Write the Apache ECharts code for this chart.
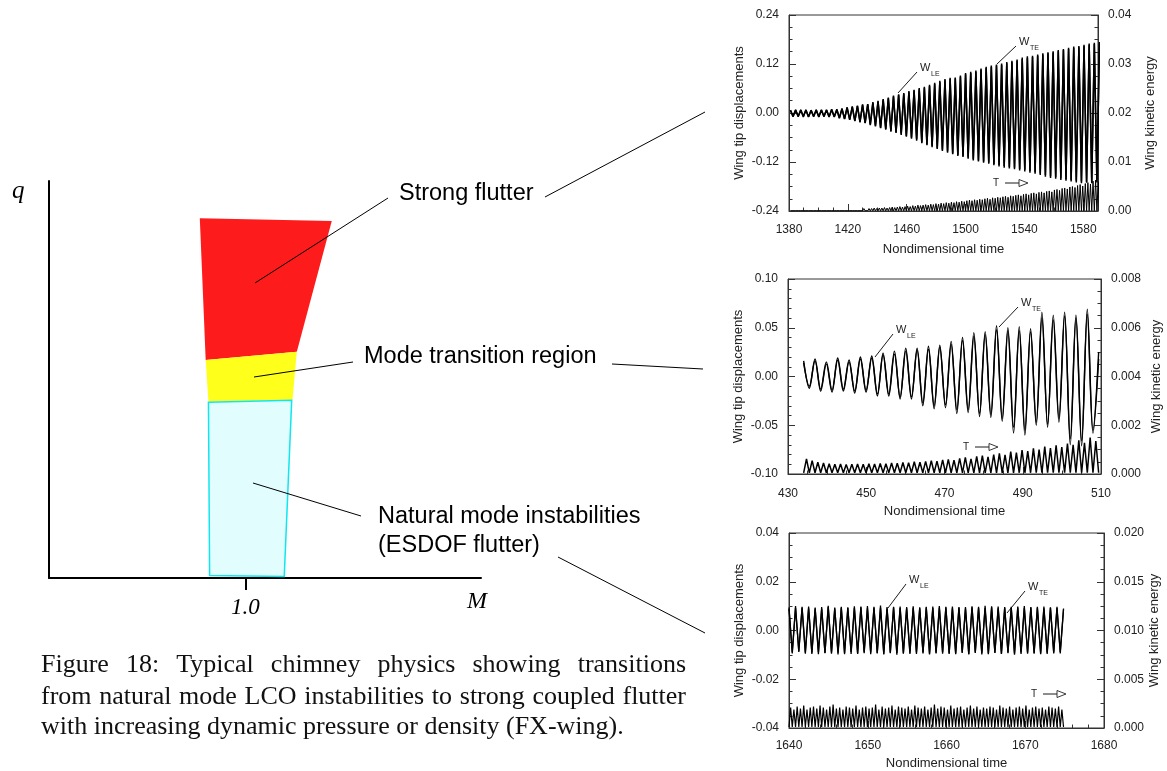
<!DOCTYPE html>
<html>
<head>
<meta charset="utf-8">
<title>Chimney physics – FX-wing</title>
<style>
  html, body { margin: 0; padding: 0; background: #fff; }
  #chart { width: 1167px; height: 771px; }
</style>
<script src="https://cdn.jsdelivr.net/npm/echarts@6.0.0/dist/echarts.min.js"></script>
</head>
<body>
<div id="chart"></div>
<script>
// ---------------------------------------------------------------
// Stability diagram: regions in (Mach number M, dynamic pressure q)
// ---------------------------------------------------------------
const machRange = [0.5, 1.6];
const qRange = [0, 10];
const machTicks = ['1.0'];
const strongFlutterRegion = [[0.884, 9.06], [1.220, 8.99], [1.131, 5.70], [0.899, 5.49]];
const modeTransitionRegion = [[0.899, 5.49], [1.131, 5.70], [1.120, 4.48], [0.906, 4.44]];
const naturalModeRegion = [[0.906, 4.43], [1.118, 4.48], [1.099, 0.04], [0.909, 0.06]];
const regionLabels = ['Strong flutter', 'Mode transition region', 'Natural mode instabilities', '(ESDOF flutter)'];

const captionLines = [
  'Figure 18: Typical chimney physics showing transitions',
  'from natural mode LCO instabilities to strong coupled flutter',
  'with increasing dynamic pressure or density (FX-wing).'
];

// ---------------------------------------------------------------
// Time histories. Displacements are listed as successive extrema
// (peak, trough, peak, ...) sampled every half period; kinetic
// energy is listed as its successive peaks between those extrema.
// ---------------------------------------------------------------

// Strong flutter case
const p1TimeRange = [1380, 1590];
const p1TimeTicks = ['1380', '1420', '1460', '1500', '1540', '1580'];
const p1DispTicks = ['-0.24', '-0.12', '0.00', '0.12', '0.24'];
const p1EnergyTicks = ['0.00', '0.01', '0.02', '0.03', '0.04'];
const p1Start = 1381;
const p1HalfPeriod = 1.75;
const p1wLE = [
  0.007, -0.009, 0.008, -0.008, 0.007, -0.010, 0.008, -0.009, 0.006, -0.009, 0.008, -0.010, 0.007, -0.008, 0.008, -0.009, 0.009, -0.010, 0.008,
  -0.012, 0.011, -0.014, 0.014, -0.016, 0.016, -0.019, 0.018, -0.021, 0.021, -0.024, 0.022,
  -0.028, 0.027, -0.031, 0.030, -0.036, 0.034, -0.039, 0.038, -0.044, 0.043, -0.047, 0.046, -0.051, 0.049,
  -0.056, 0.054, -0.060, 0.057, -0.064, 0.061, -0.072, 0.064, -0.077, 0.069, -0.081, 0.074, -0.086, 0.079, -0.090, 0.083,
  -0.094, 0.086, -0.099, 0.087, -0.103, 0.092, -0.106, 0.098, -0.109, 0.101, -0.113, 0.104, -0.116, 0.109, -0.119, 0.113,
  -0.121, 0.116, -0.125, 0.119, -0.127, 0.121, -0.130, 0.125, -0.132, 0.128, -0.134, 0.131, -0.137, 0.136, -0.139, 0.139,
  -0.142, 0.140, -0.145, 0.143, -0.148, 0.146, -0.152, 0.149, -0.155, 0.151, -0.157, 0.154, -0.160, 0.157, -0.162, 0.160,
  -0.164, 0.163, -0.166, 0.164, -0.168, 0.167, -0.169, 0.170, -0.170, 0.172, -0.168, 0.174
];
const p1wTE = [
  0.006, -0.008, 0.007, -0.009, 0.008, -0.008, 0.007, -0.010, 0.007, -0.008, 0.007, -0.009, 0.008, -0.009, 0.007, -0.010, 0.008, -0.009, 0.009,
  -0.013, 0.010, -0.015, 0.013, -0.017, 0.015, -0.020, 0.017, -0.023, 0.020, -0.025, 0.021,
  -0.030, 0.025, -0.033, 0.028, -0.037, 0.032, -0.041, 0.036, -0.046, 0.040, -0.049, 0.044, -0.054, 0.047,
  -0.058, 0.051, -0.063, 0.055, -0.068, 0.058, -0.074, 0.062, -0.079, 0.066, -0.084, 0.071, -0.088, 0.076, -0.093, 0.080,
  -0.097, 0.083, -0.101, 0.085, -0.105, 0.089, -0.108, 0.095, -0.112, 0.098, -0.116, 0.101, -0.119, 0.106, -0.122, 0.110,
  -0.124, 0.113, -0.128, 0.116, -0.131, 0.118, -0.134, 0.122, -0.136, 0.125, -0.138, 0.128, -0.141, 0.132, -0.143, 0.135,
  -0.146, 0.137, -0.149, 0.140, -0.152, 0.143, -0.156, 0.146, -0.159, 0.148, -0.161, 0.151, -0.164, 0.154, -0.166, 0.157,
  -0.168, 0.160, -0.170, 0.161, -0.172, 0.164, -0.171, 0.167, -0.172, 0.169, -0.170, 0.171
];
const p1EnergyMin = 0.00005;
const p1EnergyPeaks = [
  0.0002, 0.0001, 0.0002, 0.0002, 0.0001, 0.0002, 0.0002, 0.0001, 0.0002, 0.0002, 0.0001, 0.0002, 0.0002, 0.0002, 0.0001, 0.0002, 0.0002, 0.0002, 0.0003, 0.0002,
  0.0003, 0.0003, 0.0003, 0.0004, 0.0003, 0.0004, 0.0004, 0.0004, 0.0005, 0.0004, 0.0005, 0.0005, 0.0006, 0.0005, 0.0006, 0.0006, 0.0007, 0.0006, 0.0007, 0.0008,
  0.0007, 0.0008, 0.0009, 0.0008, 0.0009, 0.0010, 0.0009, 0.0011, 0.0010, 0.0012, 0.0011, 0.0012, 0.0013, 0.0012, 0.0014, 0.0013, 0.0015, 0.0014, 0.0016, 0.0015,
  0.0017, 0.0016, 0.0018, 0.0017, 0.0019, 0.0018, 0.0020, 0.0019, 0.0021, 0.0022, 0.0021, 0.0023, 0.0022, 0.0024, 0.0023, 0.0025, 0.0026, 0.0024, 0.0027, 0.0026,
  0.0028, 0.0027, 0.0029, 0.0030, 0.0028, 0.0031, 0.0030, 0.0032, 0.0033, 0.0031, 0.0034, 0.0035, 0.0033, 0.0036, 0.0037, 0.0035, 0.0038, 0.0039, 0.0037, 0.0040,
  0.0041, 0.0039, 0.0043, 0.0044, 0.0042, 0.0046, 0.0047, 0.0045, 0.0049, 0.0050, 0.0048, 0.0052, 0.0054, 0.0051, 0.0056, 0.0058, 0.0055, 0.0061, 0.0063, 0.0060, 0.0074
];

// Mode transition case
const p2TimeRange = [430, 510];
const p2TimeTicks = ['430', '450', '470', '490', '510'];
const p2DispTicks = ['-0.10', '-0.05', '0.00', '0.05', '0.10'];
const p2EnergyTicks = ['0.000', '0.002', '0.004', '0.006', '0.008'];
const p2Start = 434;
const p2HalfPeriod = 1.45;
const p2wLE = [
  0.016, -0.012, 0.018, -0.015, 0.013, -0.016, 0.019, -0.013, 0.017, -0.017,
  0.020, -0.014, 0.019, -0.020, 0.024, -0.018, 0.026, -0.023, 0.029, -0.021,
  0.027, -0.030, 0.031, -0.033, 0.030, -0.029, 0.036, -0.038, 0.040, -0.034,
  0.045, -0.041, 0.046, -0.039, 0.052, -0.046, 0.047, -0.058, 0.051, -0.060,
  0.046, -0.047, 0.066, -0.052, 0.063, -0.043, 0.066, -0.070, 0.060, -0.071,
  0.069, -0.055, 0.025
];
const p2wTE = [
  0.014, -0.010, 0.016, -0.013, 0.015, -0.014, 0.017, -0.015, 0.015, -0.015,
  0.018, -0.016, 0.021, -0.018, 0.022, -0.020, 0.023, -0.021, 0.026, -0.023,
  0.029, -0.027, 0.028, -0.030, 0.032, -0.032, 0.033, -0.034, 0.037, -0.037,
  0.041, -0.038, 0.043, -0.042, 0.048, -0.043, 0.050, -0.052, 0.047, -0.055,
  0.049, -0.050, 0.060, -0.049, 0.058, -0.047, 0.062, -0.064, 0.063, -0.066,
  0.064, -0.058, 0.018
];
const p2EnergyMin = 0.00005;
const p2EnergyPeaks = [
  0.00062, 0.00055, 0.00048, 0.00045, 0.00042, 0.00040, 0.00041, 0.00039, 0.00040, 0.00041,
  0.00040, 0.00042, 0.00041, 0.00043, 0.00042, 0.00045, 0.00044, 0.00047, 0.00046, 0.00050,
  0.00048, 0.00052, 0.00055, 0.00053, 0.00058, 0.00060, 0.00057, 0.00064, 0.00068, 0.00062,
  0.00072, 0.00075, 0.00070, 0.00080, 0.00085, 0.00078, 0.00092, 0.00088, 0.00098, 0.00094,
  0.00105, 0.00100, 0.00112, 0.00106, 0.00118, 0.00110, 0.00125, 0.00120, 0.00138, 0.00128,
  0.00150, 0.00135
];

// Natural mode (ESDOF) case
const p3TimeRange = [1640, 1680];
const p3TimeTicks = ['1640', '1650', '1660', '1670', '1680'];
const p3DispTicks = ['-0.04', '-0.02', '0.00', '0.02', '0.04'];
const p3EnergyTicks = ['0.000', '0.005', '0.010', '0.015', '0.020'];
const p3Start = 1640;
const p3HalfPeriod = 0.415;
const p3wLE = [
  0.0095, -0.0090, 0.0100, -0.0088, 0.0093, -0.0095, 0.0098, -0.0091, 0.0090, -0.0097, 0.0096, -0.0093, 0.0101, -0.0090, 0.0094, -0.0098, 0.0097, -0.0092, 0.0092, -0.0096,
  0.0099, -0.0094, 0.0095, -0.0089, 0.0100, -0.0097, 0.0093, -0.0092, 0.0102, -0.0095, 0.0096, -0.0091, 0.0094, -0.0099, 0.0098, -0.0093, 0.0091, -0.0096, 0.0099, -0.0090,
  0.0095, -0.0094, 0.0097, -0.0098, 0.0092, -0.0091, 0.0100, -0.0095, 0.0094, -0.0093, 0.0098, -0.0097, 0.0093, -0.0090, 0.0096, -0.0096, 0.0099, -0.0092, 0.0092, -0.0098,
  0.0101, -0.0094, 0.0095, -0.0091, 0.0098, -0.0096, 0.0093, -0.0093, 0.0097, -0.0099, 0.0094, -0.0090, 0.0100, -0.0095, 0.0096, -0.0092, 0.0093, -0.0097, 0.0098, -0.0091,
  0.0095, -0.0094, 0.0097, -0.0088, 0.0090
];
const p3wTE = [
  0.0088, -0.0094, 0.0092, -0.0085, 0.0097, -0.0090, 0.0091, -0.0096, 0.0094, -0.0089, 0.0089, -0.0092, 0.0096, -0.0095, 0.0090, -0.0091, 0.0093, -0.0097, 0.0095, -0.0088,
  0.0092, -0.0096, 0.0098, -0.0093, 0.0091, -0.0090, 0.0097, -0.0094, 0.0093, -0.0098, 0.0090, -0.0093, 0.0097, -0.0092, 0.0092, -0.0095, 0.0096, -0.0091, 0.0093, -0.0096,
  0.0091, -0.0090, 0.0094, -0.0095, 0.0098, -0.0094, 0.0093, -0.0089, 0.0097, -0.0096, 0.0091, -0.0094, 0.0096, -0.0092, 0.0090, -0.0098, 0.0095, -0.0090, 0.0097, -0.0093,
  0.0092, -0.0097, 0.0099, -0.0092, 0.0091, -0.0095, 0.0096, -0.0090, 0.0093, -0.0094, 0.0098, -0.0096, 0.0092, -0.0091, 0.0094, -0.0095, 0.0097, -0.0093, 0.0091, -0.0096,
  0.0093, -0.0090, 0.0092, -0.0094, 0.0086
];
const p3EnergyMin = 0.0001;
const p3EnergyPeaks = [
  0.0021, 0.0019, 0.0022, 0.0020, 0.0023, 0.0019, 0.0021, 0.0022, 0.0020, 0.0023, 0.0021, 0.0019, 0.0022, 0.0024, 0.0020, 0.0021, 0.0019, 0.0022, 0.0021, 0.0020,
  0.0023, 0.0019, 0.0021, 0.0022, 0.0020, 0.0021, 0.0024, 0.0019, 0.0022, 0.0020, 0.0021, 0.0023, 0.0019, 0.0022, 0.0021, 0.0020, 0.0022, 0.0019, 0.0023, 0.0021,
  0.0020, 0.0022, 0.0019, 0.0021, 0.0024, 0.0020, 0.0022, 0.0021, 0.0019, 0.0023, 0.0020, 0.0021, 0.0022, 0.0019, 0.0021, 0.0023, 0.0020, 0.0022, 0.0019, 0.0021,
  0.0020, 0.0022, 0.0021, 0.0019, 0.0023, 0.0021, 0.0020, 0.0022, 0.0019, 0.0021, 0.0022, 0.0020, 0.0023, 0.0019, 0.0021, 0.0022, 0.0020, 0.0021, 0.0019, 0.0022,
  0.0021, 0.0020, 0.0022, 0.0019
];

// ---------------------------------------------------------------
// Styling and layout
// ---------------------------------------------------------------
const SANS = '"Liberation Sans", Arial, Helvetica, sans-serif';
const SERIF = '"Liberation Serif", "Times New Roman", Times, serif';
const INK = '#222';
const FRAME = '#333';

// Extremum lists -> [time, value] vertices on the sampling grid
function extremaSeries(values, start, half) {
  return values.map((v, i) => [start + i * half, v]);
}
// Energy peaks sit between displacement extrema, minima at the extrema
function energySeries(peaks, base, start, half) {
  const out = [];
  peaks.forEach((p, i) => {
    out.push([start + i * half, base]);
    out.push([start + (i + 0.5) * half, p]);
  });
  out.push([start + peaks.length * half, base]);
  return out;
}
function labelFrom(ticks) {
  return v => {
    for (const s of ticks) if (Math.abs(Number(s) - v) < 1e-9) return s;
    return '';
  };
}

const panels = [
  { grid: { left: 789, top: 15, width: 309, height: 196 },
    time: p1TimeRange, timeTicks: p1TimeTicks, timeMinor: 10,
    disp: p1DispTicks, dispMinor: 0.03, energy: p1EnergyTicks, energyMinor: 0.0025,
    gaps: { x: 32, left: 43, right: 46 }, xMargin: 13,
    wLE: extremaSeries(p1wLE, p1Start, p1HalfPeriod),
    wTE: extremaSeries(p1wTE, p1Start, p1HalfPeriod),
    T: energySeries(p1EnergyPeaks, p1EnergyMin, p1Start, p1HalfPeriod),
    smooth: false, wWidth: 1.5, tWidth: 1.0 },
  { grid: { left: 788, top: 279, width: 313, height: 195 },
    time: p2TimeRange, timeTicks: p2TimeTicks, timeMinor: 5,
    disp: p2DispTicks, dispMinor: 0.01, energy: p2EnergyTicks, energyMinor: 0.0005,
    gaps: { x: 31, left: 43, right: 49 }, xMargin: 14,
    wLE: extremaSeries(p2wLE, p2Start, p2HalfPeriod),
    wTE: extremaSeries(p2wTE, p2Start, p2HalfPeriod),
    T: energySeries(p2EnergyPeaks, p2EnergyMin, p2Start, p2HalfPeriod),
    smooth: 0.35, wWidth: 1.4, tWidth: 1.5 },
  { grid: { left: 789, top: 533, width: 315, height: 196 },
    time: p3TimeRange, timeTicks: p3TimeTicks, timeMinor: 2,
    disp: p3DispTicks, dispMinor: 0.005, energy: p3EnergyTicks, energyMinor: 0.00125,
    gaps: { x: 29, left: 43, right: 44 }, xMargin: 12,
    wLE: extremaSeries(p3wLE, p3Start, p3HalfPeriod),
    wTE: extremaSeries(p3wTE, p3Start, p3HalfPeriod),
    T: energySeries(p3EnergyPeaks, p3EnergyMin, p3Start, p3HalfPeriod),
    smooth: false, wWidth: 1.3, tWidth: 1.2 }
];

const grids = [{ left: 49, top: 181, width: 432, height: 397, show: false }];
const xAxes = [{
  gridIndex: 0, type: 'value', min: machRange[0], max: machRange[1],
  axisLine: { show: true, onZero: false, lineStyle: { color: '#000', width: 2 } },
  axisTick: { show: true, length: 12, customValues: machTicks.map(Number), lineStyle: { color: '#000', width: 2 } },
  axisLabel: { show: true, customValues: machTicks.map(Number), formatter: labelFrom(machTicks), margin: 18,
    fontFamily: SERIF, fontStyle: 'italic', fontSize: 23, color: '#000' },
  splitLine: { show: false }
}];
const yAxes = [{
  gridIndex: 0, type: 'value', min: qRange[0], max: qRange[1],
  axisLine: { show: true, onZero: false, lineStyle: { color: '#000', width: 2 } },
  axisTick: { show: false }, axisLabel: { show: false }, splitLine: { show: false }
}];
const series = [];

function majorAxis(gi, pos, ticks, range, name, gap, margin) {
  const vals = ticks.map(Number);
  return {
    gridIndex: gi, type: 'value', position: pos, min: range[0], max: range[1],
    axisLine: { show: true, onZero: false, lineStyle: { color: FRAME, width: 1 } },
    axisTick: { show: true, inside: true, length: 7, customValues: vals, lineStyle: { color: FRAME, width: 1 } },
    axisLabel: { show: true, customValues: vals, formatter: labelFrom(ticks), margin: margin,
      fontFamily: SANS, fontSize: 12, color: INK },
    splitLine: { show: false },
    name: name, nameLocation: 'middle', nameGap: gap,
    nameTextStyle: { fontFamily: SANS, fontSize: 13, color: INK }
  };
}
function minorAxis(gi, pos, range, step) {
  return {
    gridIndex: gi, type: 'value', position: pos, min: range[0], max: range[1], interval: step,
    axisLine: { show: false, onZero: false },
    axisTick: { show: true, inside: true, length: 3.5, lineStyle: { color: FRAME, width: 1 } },
    axisLabel: { show: false }, splitLine: { show: false }
  };
}

panels.forEach((p, k) => {
  const gi = k + 1;
  grids.push(Object.assign({ show: true, borderColor: FRAME, borderWidth: 1, backgroundColor: 'transparent' }, p.grid));
  const xi = xAxes.length;
  xAxes.push(majorAxis(gi, 'bottom', p.timeTicks, p.time, 'Nondimensional time', p.gaps.x, p.xMargin));
  xAxes.push(minorAxis(gi, 'bottom', p.time, p.timeMinor));
  const dispRange = [Number(p.disp[0]), Number(p.disp[p.disp.length - 1])];
  const enRange = [Number(p.energy[0]), Number(p.energy[p.energy.length - 1])];
  const yl = yAxes.length;
  yAxes.push(majorAxis(gi, 'left', p.disp, dispRange, 'Wing tip displacements', p.gaps.left, 10));
  yAxes.push(minorAxis(gi, 'left', dispRange, p.dispMinor));
  const yr = yAxes.length;
  yAxes.push(majorAxis(gi, 'right', p.energy, enRange, 'Wing kinetic energy', p.gaps.right, 10));
  yAxes.push(minorAxis(gi, 'right', enRange, p.energyMinor));

  const common = { type: 'line', xAxisIndex: xi, symbol: 'none', showSymbol: false, clip: true,
    animation: false, silent: true };
  series.push(Object.assign({}, common, { name: 'wLE', yAxisIndex: yl, data: p.wLE, smooth: p.smooth,
    lineStyle: { color: '#000', width: p.wWidth } }));
  series.push(Object.assign({}, common, { name: 'wTE', yAxisIndex: yl, data: p.wTE, smooth: p.smooth,
    lineStyle: { color: '#000', width: p.wWidth } }));
  series.push(Object.assign({}, common, { name: 'T', yAxisIndex: yr, data: p.T, smooth: false,
    lineStyle: { color: '#000', width: p.tWidth } }));
});

// Stability regions as filled polygons in (M, q)
function regionSeries(points, fill, stroke) {
  return {
    type: 'custom', xAxisIndex: 0, yAxisIndex: 0, silent: true, animation: false, clip: false,
    data: [points[0]],
    renderItem: (params, api) => ({
      type: 'polygon',
      shape: { points: points.map(pt => api.coord(pt)) },
      style: { fill: fill, stroke: stroke || null, lineWidth: stroke ? 1.5 : 0 }
    })
  };
}
series.push(regionSeries(strongFlutterRegion, '#fe1b1b'));
series.push(regionSeries(modeTransitionRegion, '#ffff1c'));
series.push(regionSeries(naturalModeRegion, '#e2fdfd', '#10e6f0'));

// ---------------------------------------------------------------
// Annotations: leader lines, labels and caption
// ---------------------------------------------------------------
const graphic = [];
function line(x1, y1, x2, y2, w) {
  graphic.push({ type: 'line', silent: true, z: 50,
    shape: { x1, y1, x2, y2 }, style: { stroke: '#000', lineWidth: w || 1 } });
}
function text(str, x, y, font, opts) {
  graphic.push({ type: 'text', silent: true, z: 50, x, y,
    style: Object.assign({ text: str, font: font, fill: '#000', align: 'left', verticalAlign: 'middle' }, opts || {}) });
}

// diagram axis names
text('q', 12, 191, 'italic 25px ' + SERIF);
text('M', 467, 602, 'italic 24px ' + SERIF);

// region labels and their leader lines
const regionFont = '23.5px ' + SANS;
text(regionLabels[0], 399, 194, regionFont);
text(regionLabels[1], 364, 357, regionFont);
text(regionLabels[2], 378, 517, regionFont);
text(regionLabels[3], 378, 546, regionFont);
line(388, 198, 255, 283, 1);
line(353, 362, 254, 377, 1);
line(361, 516, 253, 483, 1);
line(545, 197, 705, 112, 1);
line(612, 364, 703, 369, 1);
line(558, 557, 705, 633, 1);

// curve tags inside the time-history panels
function wTag(sub, lx, ly, tx, ty) {
  line(lx, ly, tx - 3, ty + 4, 0.9);
  text('W', tx, ty, '11px ' + SANS, { fill: INK });
  text(sub, tx + 11, ty + 6, '7px ' + SANS, { fill: INK });
}
function tTag(x, y) {
  text('T', x, y, '10px ' + SANS, { fill: INK });
  line(x + 12, y, x + 26, y, 0.9);
  graphic.push({ type: 'polygon', silent: true, z: 50,
    shape: { points: [[x + 26, y - 3.5], [x + 35, y], [x + 26, y + 3.5]] },
    style: { fill: '#fff', stroke: INK, lineWidth: 0.9 } });
}
wTag('LE', 898, 93, 920, 68);
wTag('TE', 997, 64, 1019, 42);
tTag(993, 183);
wTag('LE', 875, 357, 896, 330);
wTag('TE', 999, 327, 1021, 303);
tTag(963, 447);
wTag('LE', 888, 608, 909, 580);
wTag('TE', 1007, 613, 1028, 587);
tTag(1031, 694);

// caption: first two lines justified, last line ragged
(function caption() {
  const ctx = document.createElement('canvas').getContext('2d');
  const x0 = 41, x1 = 686, ys = [665, 697, 727];
  let size = 23;
  ctx.font = size + 'px ' + SERIF;
  const w3 = ctx.measureText(captionLines[2]).width;
  size = Math.max(19, Math.min(26, size * 597 / w3));
  const font = size + 'px ' + SERIF;
  ctx.font = font;
  captionLines.forEach((ln, li) => {
    if (li === captionLines.length - 1) { text(ln, x0, ys[li], font, { fill: '#111' }); return; }
    const words = ln.split(' ');
    const widths = words.map(w => ctx.measureText(w).width);
    const gap = (x1 - x0 - widths.reduce((a, b) => a + b, 0)) / (words.length - 1);
    let x = x0;
    words.forEach((w, i) => { text(w, x, ys[li], font, { fill: '#111' }); x += widths[i] + gap; });
  });
})();

const chart = echarts.init(document.getElementById('chart'), null, { renderer: 'canvas', width: 1167, height: 771 });
chart.setOption({
  backgroundColor: '#fff',
  animation: false,
  grid: grids,
  xAxis: xAxes,
  yAxis: yAxes,
  series: series,
  graphic: graphic
});
</script>
</body>
</html>
